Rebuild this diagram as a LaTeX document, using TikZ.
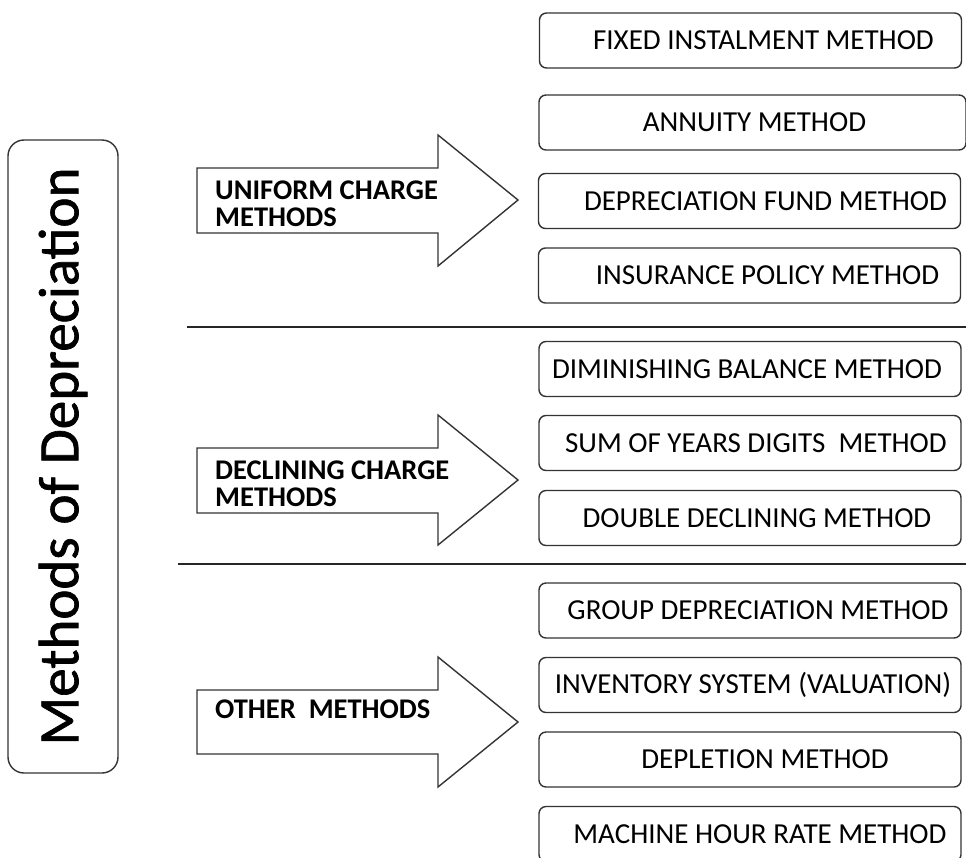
\documentclass[tikz,border=0pt]{standalone}
\usepackage{fontspec}
\setmainfont{Carlito}
\newfontfamily\titlefont{Carlito}[FakeBold=1.2]
\usepackage{tikz}

\tikzset{
  methodbox/.style={draw=black!80, line width=1.4pt, rounded corners=7pt,
    minimum width=422pt, minimum height=55pt, inner sep=0pt,
    font=\fontsize{29}{31}\selectfont},
  grouptext/.style={anchor=west, align=left, inner sep=0pt,
    font=\bfseries\fontsize{28.5}{27}\selectfont},
  bigarrow/.style={draw=black!80, line width=1.4pt, line join=miter}
}

\begin{document}
\begin{tikzpicture}[x=1pt,y=-1pt]
\useasboundingbox (0,0) rectangle (966,857);
\clip (0,0) rectangle (966,857);
\coordinate (t) at (63,456.5);
\coordinate (b1) at (750.5,40.5);
\coordinate (b2) at (752.5,122.5);
\coordinate (b3) at (749.5,201);
\coordinate (b4) at (749.5,275.5);
\coordinate (b5) at (750,369);
\coordinate (b6) at (750,443);
\coordinate (b7) at (750,518);
\coordinate (b8) at (750,610.5);
\coordinate (b9) at (750,685);
\coordinate (b10) at (750,759.5);
\coordinate (b11) at (750,834);
% draws title box
\node[draw=black!80, line width=1.4pt, rounded corners=16pt, rotate=90,
  minimum width=633pt, minimum height=110pt,
  font=\titlefont\fontsize{57}{60}\selectfont] (title) at (t) {Methods of Depreciation};
% draws arrows
\draw[bigarrow] (197,168) -- (438,168) -- (438,135) -- (518,200)
  -- (438,266) -- (438,233) -- (197,233) -- cycle;
\draw[bigarrow] (197,448) -- (438,448) -- (438,415) -- (518,480)
  -- (438,545) -- (438,513) -- (197,513) -- cycle;
\draw[bigarrow] (197,690) -- (438,690) -- (438,657) -- (518,722)
  -- (438,787) -- (438,754) -- (197,754) -- cycle;
% labels arrows
\node[grouptext] (uniform) at (215,203.5) {UNIFORM CHARGE\\METHODS};
\node[grouptext] (declining) at (215,483.5) {DECLINING CHARGE\\METHODS};
\node[grouptext] (other) at (215,709) {OTHER\ \ METHODS};
% draws separators
\draw[line width=1.8pt, black!85] (187,327) -- (966,327);
\draw[line width=1.8pt, black!85] (178,564) -- (966,564);
% draws method boxes (leading space shifts the text right, as in the original)
\node[methodbox] (fixed) at (b1) {\hspace*{26pt}FIXED INSTALMENT METHOD};
\node[methodbox, minimum width=427pt] (annuity) at (b2) {\hspace*{4pt}ANNUITY METHOD};
\node[methodbox] (fund) at (b3) {\hspace*{32pt}DEPRECIATION FUND METHOD};
\node[methodbox] (policy) at (b4) {\hspace*{36pt}INSURANCE POLICY METHOD};
\node[methodbox] (diminishing) at (b5) {DIMINISHING BALANCE METHOD\hspace*{6pt}};
\node[methodbox] (digits) at (b6) {\hspace*{12pt}SUM OF YEARS DIGITS\ \ METHOD};
\node[methodbox] (double) at (b7) {\hspace*{14pt}DOUBLE DECLINING METHOD};
\node[methodbox] (group) at (b8) {\hspace*{16pt}GROUP DEPRECIATION METHOD};
\node[methodbox] (inventory) at (b9) {\hspace*{6pt}INVENTORY SYSTEM (VALUATION)};
\node[methodbox] (depletion) at (b10) {\hspace*{30pt}DEPLETION METHOD};
\node[methodbox] (machine) at (b11) {\hspace*{20pt}MACHINE HOUR RATE METHOD};
\end{tikzpicture}
\end{document}
